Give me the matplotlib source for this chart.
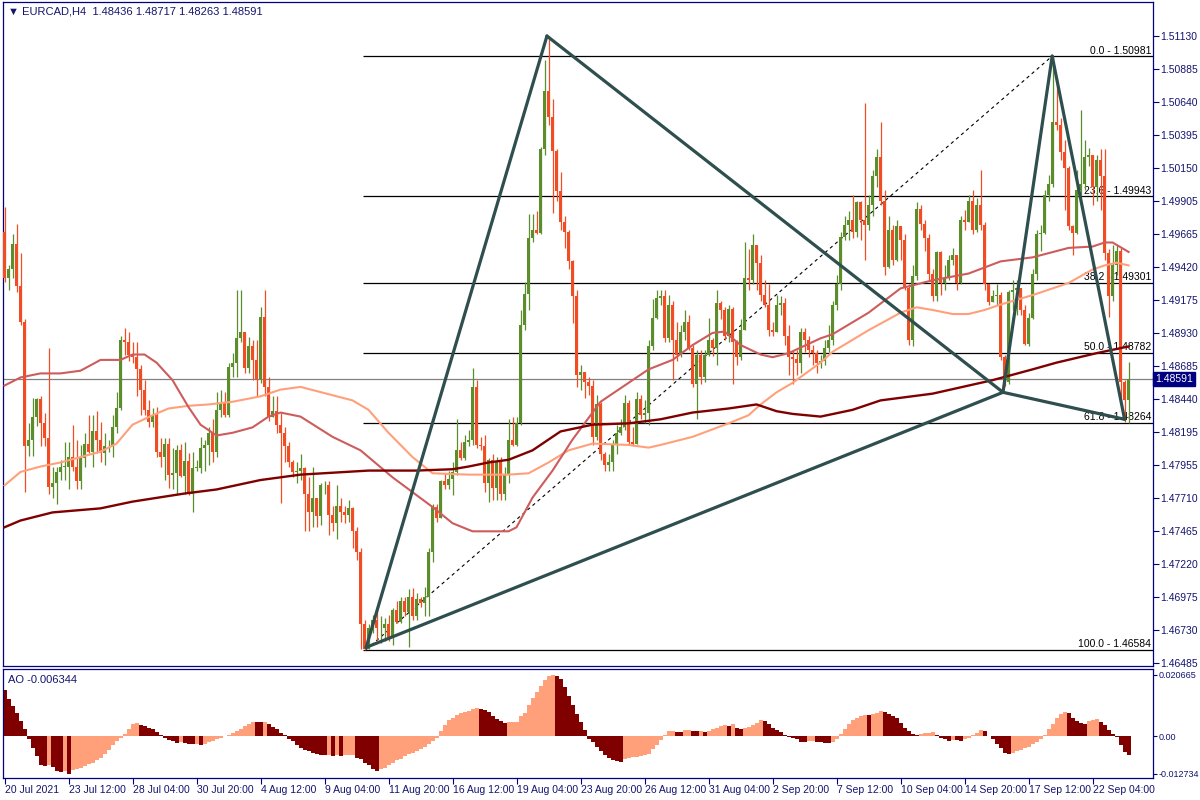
import numpy as np
import matplotlib.pyplot as plt
from matplotlib.transforms import blended_transform_factory

plt.rcParams['font.family'] = ['Liberation Sans', 'DejaVu Sans']

# ---- EURCAD H4 candles (open of each bar = previous close) ----
first_open = 1.4968

close = [
    1.4934, 1.4940, 1.4959, 1.4928, 1.4901, 1.4809, 1.4814, 1.4831, 1.4844, 1.4826,
    1.4815, 1.4779, 1.4782, 1.4790, 1.4794, 1.4794, 1.4801, 1.4794, 1.4783, 1.4800,
    1.4811, 1.4805, 1.4820, 1.4814, 1.4804, 1.4809, 1.4809, 1.4823, 1.4837, 1.4888,
    1.4886, 1.4877, 1.4875, 1.4866, 1.4851, 1.4836, 1.4827, 1.4832, 1.4805, 1.4801,
    1.4811, 1.4788, 1.4789, 1.4806, 1.4787, 1.4798, 1.4774, 1.4793, 1.4793, 1.4808,
    1.4810, 1.4819, 1.4805, 1.4836, 1.4841, 1.4832, 1.4868, 1.4871, 1.4889, 1.4894,
    1.4867, 1.4883, 1.4873, 1.4859, 1.4905, 1.4853, 1.4831, 1.4835, 1.4825, 1.4819,
    1.4809, 1.4797, 1.4790, 1.4791, 1.4793, 1.4774, 1.4760, 1.4771, 1.4757, 1.4780,
    1.4780, 1.4758, 1.4752, 1.4765, 1.4760, 1.4758, 1.4763, 1.4746, 1.4731, 1.4677,
    1.4659, 1.4674, 1.4680, 1.4674, 1.4674, 1.4677, 1.4668, 1.4688, 1.4679, 1.4694,
    1.4686, 1.4697, 1.4683, 1.4696, 1.4693, 1.4697, 1.4731, 1.4764, 1.4756, 1.4783,
    1.4780, 1.4785, 1.4790, 1.4806, 1.4800, 1.4812, 1.4814, 1.4853, 1.4810, 1.4809,
    1.4782, 1.4799, 1.4778, 1.4797, 1.4774, 1.4788, 1.4814, 1.4810, 1.4826, 1.4899,
    1.4922, 1.4963, 1.4969, 1.4967, 1.5029, 1.5072, 1.5053, 1.5028, 1.4998, 1.4975,
    1.4968, 1.4946, 1.4920, 1.4862, 1.4864, 1.4857, 1.4854, 1.4816, 1.4840, 1.4803,
    1.4795, 1.4797, 1.4811, 1.4819, 1.4823, 1.4841, 1.4812, 1.4811, 1.4844, 1.4832,
    1.4834, 1.4883, 1.4904, 1.4919, 1.4920, 1.4889, 1.4914, 1.4888, 1.4877, 1.4894,
    1.4901, 1.4882, 1.4855, 1.4877, 1.4860, 1.4877, 1.4888, 1.4882, 1.4915, 1.4910,
    1.4891, 1.4911, 1.4886, 1.4875, 1.4895, 1.4934, 1.4932, 1.4958, 1.4945, 1.4921,
    1.4914, 1.4895, 1.4894, 1.4914, 1.4915, 1.4891, 1.4875, 1.4874, 1.4871, 1.4894,
    1.4888, 1.4880, 1.4878, 1.4871, 1.4872, 1.4882, 1.4888, 1.4914, 1.4929, 1.4964,
    1.4973, 1.4977, 1.4968, 1.4990, 1.4977, 1.4973, 1.4988, 1.5009, 1.5023, 1.4991,
    1.4942, 1.4969, 1.4947, 1.4972, 1.4962, 1.4926, 1.4888, 1.4935, 1.4985, 1.4974,
    1.4963, 1.4937, 1.4920, 1.4953, 1.4930, 1.4934, 1.4947, 1.4951, 1.4930, 1.4977,
    1.4975, 1.4991, 1.4969, 1.4988, 1.4973, 1.4929, 1.4916, 1.4920, 1.4921, 1.4875,
    1.4857, 1.4923, 1.4925, 1.4926, 1.4910, 1.4885, 1.4904, 1.4937, 1.4966, 1.4967,
    1.4995, 1.5003, 1.5049, 1.5047, 1.5027, 1.5015, 1.4972, 1.4967, 1.4999, 1.5003,
    1.5023, 1.5025, 1.5001, 1.5021, 1.5009, 1.4952, 1.4920, 1.4943, 1.4954, 1.4857,
    1.48436, 1.48591]

high = [
    1.4986, 1.4943, 1.4966, 1.4974, 1.4952, 1.4903, 1.4826, 1.4845, 1.4845, 1.4846,
    1.4834, 1.4882, 1.4794, 1.4794, 1.4799, 1.4812, 1.4812, 1.4825, 1.4814, 1.4810,
    1.4819, 1.4832, 1.4832, 1.4835, 1.4827, 1.4819, 1.4814, 1.4832, 1.4849, 1.4891,
    1.4897, 1.4894, 1.4886, 1.4886, 1.4869, 1.4858, 1.4843, 1.4837, 1.4838, 1.4815,
    1.4815, 1.4815, 1.4808, 1.4810, 1.4811, 1.4812, 1.4804, 1.4805, 1.4799, 1.4816,
    1.4814, 1.4823, 1.4829, 1.4849, 1.4851, 1.4849, 1.4871, 1.4878, 1.4925, 1.4925,
    1.4894, 1.4890, 1.4888, 1.4888, 1.4912, 1.4925, 1.4860, 1.4846, 1.4846, 1.4834,
    1.4823, 1.4812, 1.4799, 1.4797, 1.4803, 1.4794, 1.4786, 1.4794, 1.4771, 1.4782,
    1.4783, 1.4783, 1.4765, 1.4780, 1.4771, 1.4765, 1.4769, 1.4764, 1.4749, 1.4734,
    1.4680, 1.4677, 1.4684, 1.4690, 1.4683, 1.4682, 1.4684, 1.4689, 1.4694, 1.4697,
    1.4697, 1.4703, 1.4704, 1.4700, 1.4697, 1.4705, 1.4734, 1.4766, 1.4766, 1.4784,
    1.4789, 1.4791, 1.4797, 1.4829, 1.4812, 1.4817, 1.4821, 1.4867, 1.4858, 1.4816,
    1.4817, 1.4800, 1.4803, 1.4801, 1.4801, 1.4794, 1.4829, 1.4831, 1.4831, 1.4910,
    1.4931, 1.4981, 1.4981, 1.4983, 1.5031, 1.5095, 1.5113, 1.5066, 1.5029, 1.5012,
    1.4980, 1.4969, 1.4947, 1.4925, 1.4869, 1.4864, 1.4860, 1.4858, 1.4847, 1.4842,
    1.4805, 1.4803, 1.4814, 1.4825, 1.4829, 1.4847, 1.4843, 1.4823, 1.4849, 1.4847,
    1.4843, 1.4888, 1.4918, 1.4925, 1.4925, 1.4925, 1.4921, 1.4917, 1.4901, 1.4899,
    1.4910, 1.4906, 1.4884, 1.4880, 1.4880, 1.4880, 1.4904, 1.4889, 1.4925, 1.4917,
    1.4912, 1.4914, 1.4912, 1.4888, 1.4903, 1.4960, 1.4955, 1.4966, 1.4958, 1.4951,
    1.4932, 1.4929, 1.4901, 1.4921, 1.4920, 1.4919, 1.4899, 1.4880, 1.4880, 1.4897,
    1.4897, 1.4891, 1.4884, 1.4880, 1.4877, 1.4888, 1.4899, 1.4917, 1.4936, 1.4968,
    1.4980, 1.4983, 1.4995, 1.4991, 1.4991, 1.5063, 1.4995, 1.5014, 1.5029, 1.5049,
    1.4999, 1.4980, 1.4973, 1.4977, 1.4972, 1.4966, 1.4929, 1.4943, 1.4990, 1.4988,
    1.4977, 1.4966, 1.4940, 1.4954, 1.4954, 1.4943, 1.4951, 1.4956, 1.4951, 1.4980,
    1.4984, 1.4995, 1.4999, 1.4993, 1.5014, 1.4975, 1.4929, 1.4925, 1.4929, 1.4923,
    1.4877, 1.4925, 1.4932, 1.4932, 1.4925, 1.4914, 1.4908, 1.4940, 1.4969, 1.4973,
    1.4999, 1.5010, 1.50981, 1.5081, 1.5052, 1.5036, 1.5017, 1.4973, 1.5014, 1.5058,
    1.5036, 1.5030, 1.5025, 1.5025, 1.5029, 1.5029, 1.4955, 1.4958, 1.4958, 1.4956,
    1.4858, 1.48717]

low = [
    1.4931, 1.4925, 1.4934, 1.4923, 1.4899, 1.4775, 1.4802, 1.4802, 1.4824, 1.4809,
    1.4809, 1.4774, 1.4771, 1.4766, 1.4784, 1.4784, 1.4777, 1.4791, 1.4777, 1.4777,
    1.4794, 1.4804, 1.4794, 1.4804, 1.4797, 1.4795, 1.4805, 1.4801, 1.4819, 1.4836,
    1.4877, 1.4872, 1.4871, 1.4846, 1.4832, 1.4832, 1.4823, 1.4823, 1.4801, 1.4794,
    1.4784, 1.4778, 1.4777, 1.4774, 1.4786, 1.4774, 1.4773, 1.4760, 1.4791, 1.4789,
    1.4791, 1.4795, 1.4797, 1.4801, 1.4831, 1.4831, 1.4831, 1.4860, 1.4860, 1.4886,
    1.4863, 1.4863, 1.4858, 1.4846, 1.4856, 1.4846, 1.4828, 1.4834, 1.4819, 1.4767,
    1.4797, 1.4794, 1.4786, 1.4782, 1.4784, 1.4746, 1.4746, 1.4749, 1.4749, 1.4751,
    1.4774, 1.4743, 1.4746, 1.4740, 1.4753, 1.4752, 1.4753, 1.4734, 1.4725, 1.4659,
    1.46584, 1.4662, 1.4671, 1.4664, 1.4663, 1.4665, 1.4665, 1.4662, 1.4678, 1.4678,
    1.4683, 1.4660, 1.4680, 1.4680, 1.4690, 1.4683, 1.4683, 1.4723, 1.4753, 1.4757,
    1.4777, 1.4777, 1.4773, 1.4788, 1.4799, 1.4799, 1.4809, 1.4810, 1.4808, 1.4806,
    1.4775, 1.4768, 1.4769, 1.4769, 1.4769, 1.4769, 1.4782, 1.4809, 1.4809, 1.4825,
    1.4895, 1.4910, 1.4960, 1.4966, 1.4966, 1.5025, 1.5047, 1.4982, 1.4991, 1.4969,
    1.4956, 1.4940, 1.4900, 1.4853, 1.4851, 1.4845, 1.4847, 1.4810, 1.4814, 1.4799,
    1.4791, 1.4791, 1.4791, 1.4803, 1.4817, 1.4821, 1.4811, 1.4809, 1.4814, 1.4829,
    1.4826, 1.4825, 1.4880, 1.4903, 1.4914, 1.4886, 1.4886, 1.4858, 1.4872, 1.4875,
    1.4888, 1.4880, 1.4853, 1.4829, 1.4855, 1.4857, 1.4876, 1.4876, 1.4869, 1.4903,
    1.4888, 1.4886, 1.4855, 1.4869, 1.4873, 1.4895, 1.4925, 1.4929, 1.4925, 1.4917,
    1.4912, 1.4891, 1.4891, 1.4894, 1.4906, 1.4884, 1.4862, 1.4855, 1.4862, 1.4863,
    1.4879, 1.4875, 1.4869, 1.4863, 1.4867, 1.4869, 1.4879, 1.4884, 1.4910, 1.4925,
    1.4962, 1.4962, 1.4963, 1.4964, 1.4962, 1.4947, 1.4969, 1.4980, 1.5001, 1.4988,
    1.4936, 1.4941, 1.4943, 1.4946, 1.4947, 1.4925, 1.4884, 1.4883, 1.4932, 1.4969,
    1.4954, 1.4932, 1.4917, 1.4917, 1.4921, 1.4925, 1.4932, 1.4943, 1.4925, 1.4929,
    1.4969, 1.4975, 1.4966, 1.4968, 1.4969, 1.4925, 1.4914, 1.4916, 1.4914, 1.4873,
    1.4854, 1.4855, 1.4910, 1.4906, 1.4906, 1.4884, 1.4883, 1.4903, 1.4932, 1.4954,
    1.4966, 1.4991, 1.5001, 1.5043, 1.5021, 1.4984, 1.4969, 1.4951, 1.4966, 1.4995,
    1.4999, 1.5017, 1.4988, 1.4991, 1.4984, 1.4947, 1.4905, 1.4917, 1.4936, 1.4843,
    1.4827, 1.48263]

# ---- moving averages, read at selected bars ----
ma_maroon_bar = [0, 4, 12, 24, 32, 45, 53, 64, 74, 91, 103, 112, 116, 121, 126, 132, 139,
                 147, 156, 164, 172, 181, 188, 193, 197, 204, 212, 219, 232, 247, 257, 263, 273, 281]
ma_maroon = [1.4749, 1.4754, 1.4760, 1.4763, 1.4768, 1.4774, 1.4777, 1.4784, 1.4788, 1.4791,
             1.4791, 1.4792, 1.4794, 1.4797, 1.4799, 1.4806, 1.4820, 1.4825, 1.4826, 1.4829,
             1.4834, 1.4837, 1.4840, 1.4835, 1.4833, 1.4831, 1.4836, 1.4843, 1.4848, 1.4858,
             1.4866, 1.4871, 1.4878, 1.4883]

ma_red_bar = [0, 4, 9, 14, 19, 24, 29, 32, 35, 38, 42, 46, 49, 53, 57, 62, 66, 69, 74, 82,
              89, 97, 107, 112, 117, 126, 128, 132, 137, 142, 147, 149, 156, 161, 167, 172,
              177, 180, 184, 189, 192, 196, 204, 207, 216, 224, 232, 241, 249, 257, 266, 272,
              275, 277, 281]
ma_red = [1.4854, 1.4860, 1.4863, 1.4863, 1.4865, 1.4873, 1.4873, 1.4877, 1.4877, 1.4871,
          1.4858, 1.4838, 1.4825, 1.4817, 1.4819, 1.4823, 1.4831, 1.4834, 1.4831, 1.4816,
          1.4806, 1.4786, 1.4764, 1.4752, 1.4746, 1.4746, 1.4749, 1.4771, 1.4791, 1.4814,
          1.4834, 1.4842, 1.4856, 1.4866, 1.4873, 1.4884, 1.4893, 1.4894, 1.4884, 1.4877,
          1.4875, 1.4878, 1.4889, 1.4892, 1.4908, 1.4926, 1.4932, 1.4937, 1.4946, 1.4949,
          1.4956, 1.4957, 1.4960, 1.4960, 1.4953]

ma_salmon_bar = [0, 4, 9, 14, 19, 24, 28, 32, 37, 41, 46, 51, 57, 64, 69, 74, 87, 91, 96,
                 102, 107, 116, 126, 131, 136, 141, 147, 156, 161, 164, 172, 181, 186, 189,
                 193, 197, 204, 207, 216, 224, 228, 232, 237, 241, 245, 249, 257, 266, 272,
                 275, 278, 281]
ma_salmon = [1.4780, 1.4790, 1.4794, 1.4797, 1.4801, 1.4805, 1.4811, 1.4825, 1.4832, 1.4837,
             1.4839, 1.4840, 1.4842, 1.4846, 1.4851, 1.4853, 1.4843, 1.4836, 1.4819, 1.4801,
             1.4789, 1.4788, 1.4788, 1.4789, 1.4797, 1.4806, 1.4811, 1.4810, 1.4808, 1.4810,
             1.4816, 1.4826, 1.4832, 1.4840, 1.4849, 1.4856, 1.4871, 1.4879, 1.4895, 1.4908,
             1.4912, 1.4910, 1.4907, 1.4907, 1.4910, 1.4914, 1.4921, 1.4930, 1.4940, 1.4943,
             1.4945, 1.4943]

# ---- Awesome Oscillator ----
ao = [
    0.0155, 0.0126, 0.0101, 0.0076, 0.0051, 0.0022, -0.0009, -0.0039, -0.0067, -0.0099,
    -0.0101, -0.0098, -0.0103, -0.0118, -0.0121, -0.0118, -0.012734, -0.0115, -0.0110, -0.0107,
    -0.0101, -0.0095, -0.0090, -0.0082, -0.0073, -0.0062, -0.0047, -0.0031, -0.0017, -0.0006,
    0.0006, 0.0025, 0.0040, 0.0043, 0.0038, 0.0034, 0.0028, 0.0022, 0.0013, 0.0003,
    -0.0006, -0.0012, -0.0018, -0.0022, -0.0020, -0.0025, -0.0027, -0.0028, -0.0027, -0.0029,
    -0.0026, -0.0020, -0.0016, -0.0011, -0.0006, 0.0001, 0.0004, 0.0010, 0.0017, 0.0025,
    0.0033, 0.0042, 0.0048, 0.0047, 0.0046, 0.0048, 0.0040, 0.0031, 0.0022, 0.0011,
    0.0002, -0.0009, -0.0017, -0.0031, -0.0042, -0.0047, -0.0051, -0.0058, -0.0062, -0.0063,
    -0.0065, -0.0064, -0.0066, -0.0065, -0.0066, -0.0065, -0.0064, -0.0063, -0.0073, -0.0079,
    -0.0090, -0.0099, -0.0110, -0.0118, -0.0112, -0.0107, -0.0099, -0.0090, -0.0082, -0.0076,
    -0.0067, -0.0062, -0.0056, -0.0051, -0.0045, -0.0038, -0.0028, -0.0017, -0.0006, 0.0017,
    0.0036, 0.0053, 0.0060, 0.0070, 0.0076, 0.0081, 0.0084, 0.0090, 0.0095, 0.0092,
    0.0088, 0.0081, 0.0067, 0.0056, 0.0051, 0.0045, 0.0046, 0.0047, 0.0048, 0.0067,
    0.0079, 0.0103, 0.0129, 0.0149, 0.0168, 0.0189, 0.0203, 0.020665, 0.0203, 0.0191,
    0.0166, 0.0135, 0.0103, 0.0073, 0.0047, 0.0020, -0.0009, -0.0020, -0.0036, -0.0051,
    -0.0065, -0.0075, -0.0082, -0.0084, -0.0088, -0.0079, -0.0075, -0.0071, -0.0070, -0.0067,
    -0.0064, -0.0062, -0.0045, -0.0030, -0.0015, 0.0002, 0.0017, 0.0018, 0.0015, 0.0013,
    0.0019, 0.0020, 0.0017, 0.0016, 0.0017, 0.0014, 0.0017, 0.0022, 0.0028, 0.0033,
    0.0036, 0.0034, 0.0039, 0.0028, 0.0025, 0.0028, 0.0031, 0.0037, 0.0045, 0.0053,
    0.0052, 0.0039, 0.0028, 0.0020, 0.0013, 0.0002, -0.0002, -0.0006, -0.0011, -0.0019,
    -0.0020, -0.0017, -0.0016, -0.0020, -0.0021, -0.0022, -0.0023, -0.0020, -0.0011, 0.0006,
    0.0022, 0.0039, 0.0053, 0.0062, 0.0067, 0.0071, 0.0070, 0.0075, 0.0079, 0.0083,
    0.0081, 0.0073, 0.0067, 0.0060, 0.0045, 0.0028, 0.0017, 0.0007, 0.0003, 0.0006,
    0.0009, 0.0011, 0.0013, 0.0002, -0.0006, -0.0011, -0.0018, -0.0013, -0.0014, -0.0018,
    -0.0011, -0.0006, 0.0002, 0.0009, 0.0019, 0.0017, -0.0001, -0.0011, -0.0026, -0.0039,
    -0.0056, -0.0062, -0.0056, -0.0052, -0.0047, -0.0040, -0.0036, -0.0028, -0.0020, -0.0009,
    0.0002, 0.0025, 0.0039, 0.0060, 0.0075, 0.0082, 0.0079, 0.0062, 0.0051, 0.0045,
    0.0039, 0.0051, 0.0053, 0.0056, 0.0047, 0.0036, 0.0020, 0.0006, -0.0003, -0.0031,
    -0.0054, -0.006344]

# ---- Fibonacci retracement & harmonic pattern ----
fib_levels = [0.0, 23.6, 38.2, 50.0, 61.8, 100.0]
fib_prices = [1.50981, 1.49943, 1.49301, 1.48782, 1.48264, 1.46584]
fib_start_bar = 89.6
fib_trend_bar = [90.4, 261.9]

pat_bar = [90.4, 135.6, 249.6, 261.9, 280.0]
pat_price = [1.4660, 1.5113, 1.4849, 1.50981, 1.4829]

price_ticks = [1.51130, 1.50885, 1.50640, 1.50395, 1.50150, 1.49905, 1.49665, 1.49420,
               1.49175, 1.48930, 1.48685, 1.48440, 1.48195, 1.47955, 1.47710, 1.47465,
               1.47220, 1.46975, 1.46730, 1.46485]
ao_ticks = [0.020665, 0.0, -0.012734]
ao_tick_labels = ['0.020665', '0.00', '-0.012734']
date_labels = ['20 Jul 2021', '23 Jul 12:00', '28 Jul 04:00', '30 Jul 20:00', '4 Aug 12:00',
               '9 Aug 04:00', '11 Aug 20:00', '16 Aug 12:00', '19 Aug 04:00', '23 Aug 20:00',
               '26 Aug 12:00', '31 Aug 04:00', '2 Sep 20:00', '7 Sep 12:00', '10 Sep 04:00',
               '14 Sep 20:00', '17 Sep 12:00', '22 Sep 04:00']
bars_per_label = 16

# ---------------------------------------------------------------
NAVY = '#000080'
TXT = '#14146e'
GREEN = '#5b8e2a'
RED = '#f24c22'

c = np.array(close)
h = np.array(high)
l = np.array(low)
o = np.r_[first_open, c[:-1]]
h = np.maximum(h, np.maximum(o, c))
l = np.minimum(l, np.minimum(o, c))
x = np.arange(len(c))
col = np.where(c >= o, GREEN, RED)

fig = plt.figure(figsize=(12, 8), dpi=100)
ax = fig.add_axes([0.0025, 0.1675, 0.95833, 0.83])
ax2 = fig.add_axes([0.0025, 0.0275, 0.95833, 0.13625])
xlim = (-0.375, 287.1)

# candles
ax.vlines(x, l, h, colors=col, linewidth=0.9, zorder=3)
ax.bar(x, np.maximum(np.abs(c - o), 0.00005), bottom=np.minimum(o, c), width=0.72,
       color=col, linewidth=0, zorder=3)

# moving averages
ax.plot(ma_salmon_bar, ma_salmon, color='#ffa07a', lw=1.5, zorder=4)
ax.plot(ma_red_bar, ma_red, color='#cd5c5c', lw=1.5, zorder=4)
ax.plot(ma_maroon_bar, ma_maroon, color='#800000', lw=1.7, zorder=4)

# current price line
ax.axhline(c[-1], color='#808080', lw=0.9, zorder=1)

# fibonacci
ax.hlines(fib_prices, fib_start_bar, xlim[1], colors='black', lw=0.9, zorder=2)
blend = blended_transform_factory(ax.transAxes, ax.transData)
for lvl, p in zip(fib_levels, fib_prices):
    ax.text(0.9985, p + 0.00004, f'{lvl:.1f} - {p:.5f}', transform=blend, ha='right',
            va='bottom', fontsize=7.5, color='black', zorder=1)
ax.plot(fib_trend_bar, [fib_prices[-1], fib_prices[0]], color='black', lw=0.8,
        ls=(0, (3, 3)), zorder=2)

# harmonic pattern
for a, b in [(0, 1), (1, 2), (0, 2), (2, 3), (3, 4), (2, 4)]:
    ax.plot([pat_bar[a], pat_bar[b]], [pat_price[a], pat_price[b]], color='#2f4f4f',
            lw=2.3, solid_capstyle='round', zorder=5)

ax.set_xlim(*xlim)
ax.set_ylim(1.46462, 1.51382)
ax.set_xticks([])
ax.yaxis.tick_right()
ax.set_yticks(price_ticks)
ax.set_yticklabels([f'{t:.5f}' for t in price_ticks])

# last price box
ax.text(1.0017, c[-1], f'{c[-1]:.5f}', transform=blend, ha='left', va='center',
        fontsize=7.5, color='white',
        bbox=dict(facecolor=NAVY, edgecolor=NAVY, boxstyle='square,pad=0.2'))

fig.text(8 / 1200, 1 - 12 / 800,
         f'\u25bc EURCAD,H4  {o[-1]:.5f} {h[-1]:.5f} {l[-1]:.5f} {c[-1]:.5f}',
         fontsize=8, color=TXT, va='center', ha='left')

# AO panel
ao_arr = np.array(ao)
rising = np.r_[False, ao_arr[1:] > ao_arr[:-1]]
ax2.bar(x, ao_arr, width=1.0, color=np.where(rising, '#ffa07a', '#800000'), linewidth=0)
ax2.set_xlim(*xlim)
ax2.set_ylim(-0.01415, 0.02258)
ax2.yaxis.tick_right()
ax2.set_yticks(ao_ticks)
ax2.set_yticklabels(ao_tick_labels)
ax2.set_xticks(np.arange(len(date_labels)) * bars_per_label)
ax2.set_xticklabels(date_labels, ha='left')
ax2.text(0.004, 0.9, f'AO {ao[-1]:.6f}', transform=ax2.transAxes, fontsize=8,
         color=TXT, va='center', ha='left')

for a in (ax, ax2):
    for s in a.spines.values():
        s.set_color(NAVY)
        s.set_linewidth(0.9)
ax.tick_params(axis='y', colors=NAVY, labelcolor=TXT, labelsize=7.5, length=4,
               width=0.8, pad=1.5)
ax2.tick_params(axis='y', colors=NAVY, labelcolor=TXT, labelsize=6.5, length=3,
                width=0.8, pad=1.0)
ax2.tick_params(axis='x', colors=NAVY, labelcolor=TXT, labelsize=7.5, length=4,
                width=0.8, pad=1)

fig.savefig('out.png', dpi=100)
